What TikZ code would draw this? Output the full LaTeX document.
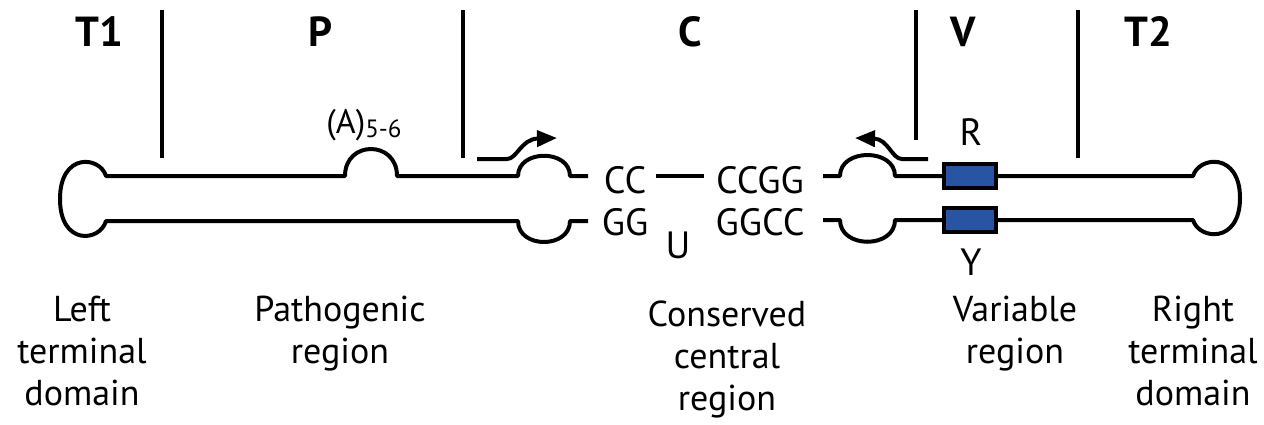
\documentclass[tikz,border=0pt]{standalone}
\usepackage{fontspec}
\setmainfont{PT Sans}
\usetikzlibrary{arrows.meta}
\definecolor{boxblue}{RGB}{40,84,164}
\begin{document}
\begin{tikzpicture}[x=0.5pt,y=-0.5pt,
  strand/.style={line width=2pt, line join=round},
  divider/.style={line width=2pt},
  regionlab/.style={font=\fontsize{21}{24}\selectfont\bfseries, anchor=base, inner sep=0pt},
  desc/.style={font=\fontsize{18}{21}\selectfont, align=center, anchor=base, inner sep=0pt},
  seq/.style={font=\fontsize{19}{20}\selectfont, anchor=base, inner sep=0pt},
  vbox/.style={draw, line width=1.6pt, fill=boxblue, minimum width=26pt, minimum height=12pt, inner sep=0pt},
  promoter/.style={line width=2pt, -{Triangle[length=10pt,width=8pt]}}
]
\useasboundingbox (0,0) rectangle (1264,424);

% region labels
\node[regionlab] (t1) at (99,46) {T1};
\node[regionlab] (p)  at (321,46) {P};
\node[regionlab] (c)  at (690,46) {C};
\node[regionlab] (v)  at (963,46) {V};
\node[regionlab] (t2) at (1148,46) {T2};

% dividers
\draw[divider] (162,10) -- (162,158);
\draw[divider] (463,10) -- (463,158);
\draw[divider] (916,10) -- (916,140);
\draw[divider] (1078,10) -- (1078,158);

% left half of molecule
\draw[strand] (588,176) -- (570,176) .. controls (570,149) and (518,149) .. (518,176)
  -- (397,176) .. controls (397,140) and (345,140) .. (345,176)
  -- (106,176) .. controls (100,156) and (60,152) .. (60,199)
  .. controls (60,246) and (100,242) .. (106,221)
  -- (518,221) .. controls (518,249) and (570,249) .. (570,221) -- (588,221);

% boxes
\node[vbox] (boxR) at (970,176) {};
\node[vbox] (boxY) at (970,220) {};

% right half of molecule
\draw[strand] (boxR.west) -- (895,176) .. controls (895,148) and (840,148) .. (840,176) -- (823,176);
\draw[strand] (boxY.west) -- (895,220) .. controls (895,249) and (840,249) .. (840,220) -- (823,220);
\draw[strand] (boxR.east) -- (1193,176) .. controls (1199,156) and (1240,152) .. (1240,198)
  .. controls (1240,244) and (1199,240) .. (1193,220) -- (boxY.east);

% sequence
\node[seq] (cc1) at (625,193) {CC};
\node[seq] (cc2) at (760,193) {CCGG};
\node[seq] (gg1) at (625,235) {GG};
\node[seq] (gg2) at (760,235) {GGCC};
\node[seq] (u)   at (678,258) {U};
\draw[strand] ([xshift=4.5pt,yshift=2pt]cc1.east) -- ([xshift=-6pt,yshift=2pt]cc2.west);

% R / Y
\node[seq] (r) at (971,145) {R};
\node[seq] (y) at (971,275) {Y};

% (A)5-6
\node[seq, font=\fontsize{17}{20}\selectfont] (a) at (364,133) {(A)\raisebox{-2pt}{\fontsize{12.5}{12}\selectfont 5-6}};

% promoter arrows
\draw[promoter] (477,159) -- (507,159) .. controls (517,159) and (521,139) .. (557,138);
\draw[promoter] (928,159) -- (902,159) .. controls (892,159) and (888,139) .. (855,138);

% descriptions (anchored at the baseline of the last line)
\node[desc] (dl) at (82,405) {Left\\terminal\\domain};
\node[desc] (dp) at (340,363) {Pathogenic\\region};
\node[desc] (dc) at (727,410) {Conserved\\central\\region};
\node[desc] (dv) at (1015,363) {Variable\\region};
\node[desc] (dr) at (1193,405) {Right\\terminal\\domain};
\end{tikzpicture}
\end{document}
